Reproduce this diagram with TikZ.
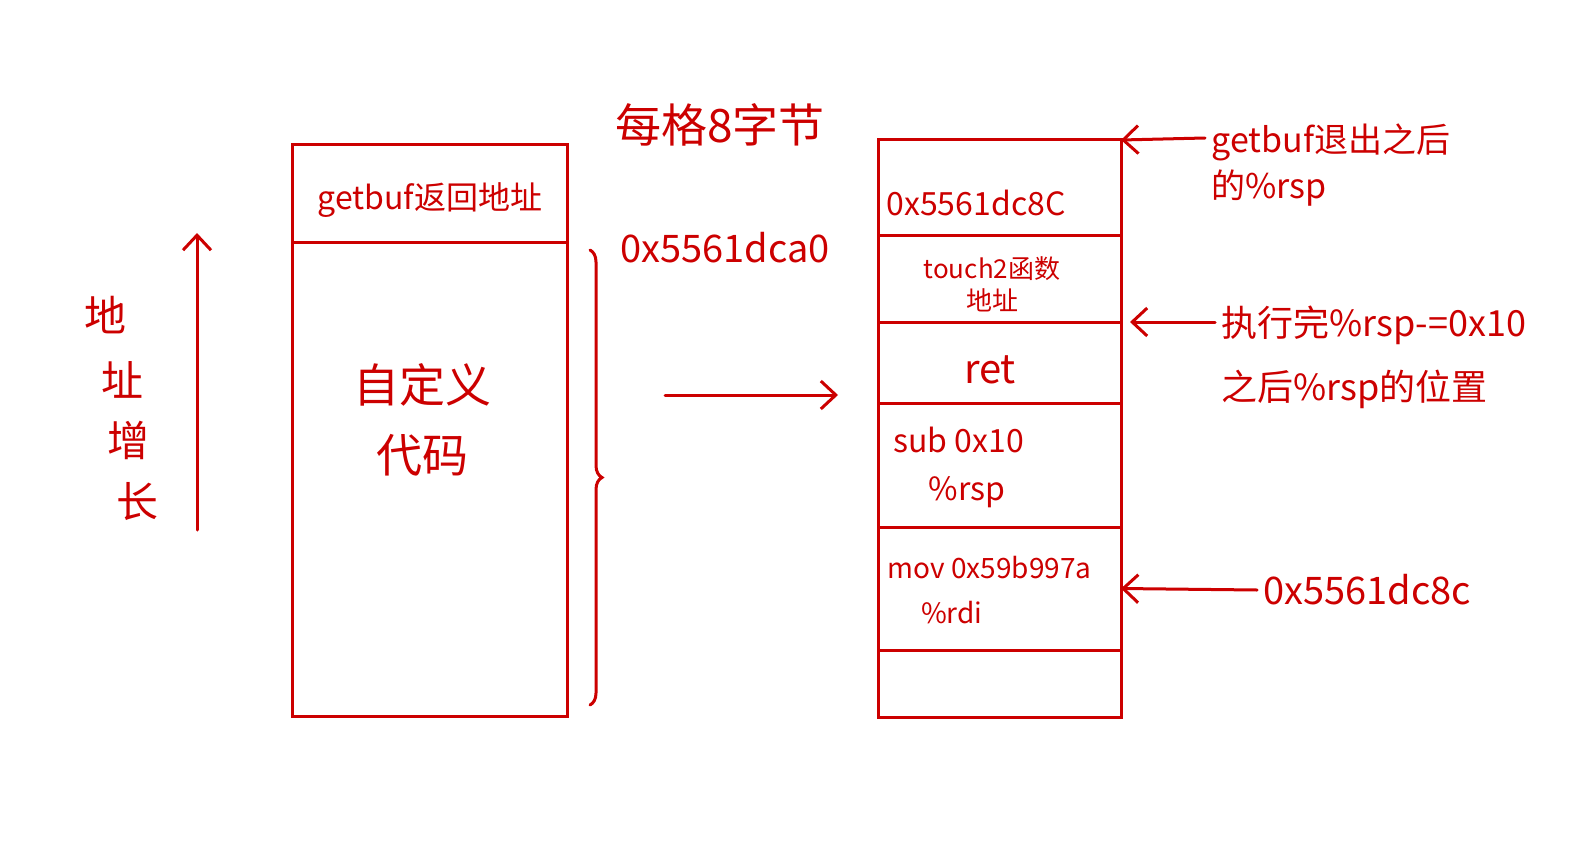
\documentclass[tikz,border=0pt]{standalone}
\usepackage{fontspec}
\setmainfont{Noto Sans CJK SC}
\usetikzlibrary{positioning,arrows.meta,decorations.pathreplacing}
\definecolor{ink}{RGB}{204,0,0}
\newcommand\penfont[2]{\fontsize{#1}{#2}\selectfont}

\begin{document}
\begin{tikzpicture}[x=1pt,y=-1pt,line width=3pt,line cap=round,draw=ink,
    >={Straight Barb[length=15pt,width=28pt]},
    cell/.style={draw=ink,rectangle,outer sep=0pt,inner sep=0pt,minimum width=#1},
    hand/.style={text=ink,inner sep=0pt}]
  \useasboundingbox (0,0) rectangle (1587,848);

  % left stack
  \node[cell=275pt,minimum height=97pt,anchor=north west] (l1) at (292,145) {};
  \node[cell=275pt,minimum height=474pt,below=0pt of l1]  (l2) {};
  \node[hand,font=\penfont{32}{38}] (t0) at (430,200) {getbuf返回地址};
  \node[hand,font=\penfont{46}{70},align=center] (code) at (422,420) {自定义\\代码};

  % right stack
  \node[cell=243pt,minimum height=95pt,anchor=north west] (r1) at (878,140) {};
  \node[cell=243pt,minimum height=87pt,below=0pt of r1]  (r2) {};
  \node[cell=243pt,minimum height=81pt,below=0pt of r2]  (r3) {};
  \node[cell=243pt,minimum height=124pt,below=0pt of r3] (r4) {};
  \node[cell=243pt,minimum height=123pt,below=0pt of r4] (r5) {};
  \node[cell=243pt,minimum height=67pt,below=0pt of r5]  (r6) {};
  \node[hand,font=\penfont{32}{38},anchor=west] (t1) at (885,203) {0x5561dc8C};
  \node[hand,font=\penfont{26}{32},align=center] (t2) at (992,284) {touch2函数\\地址};
  \node[hand,font=\penfont{40}{48}] (t3) at (990,370) {ret};
  \node[hand,font=\penfont{32}{48},align=left,anchor=west] (t4) at (892,467) {sub 0x10\\\hspace{1.1em}\%rsp};
  \node[hand,font=\penfont{28}{45},align=left,anchor=west] (t5) at (886,590) {mov 0x59b997a\\\hspace{1.2em}\%rdi};

  % labels
  \node[hand,font=\penfont{46}{56}] (title) at (720,125) {每格8字节};
  \node[hand,font=\penfont{38}{46}] (addr1) at (725,248) {0x5561dca0};
  \node[hand,font=\penfont{42}{50}] (g1) at (105,315) {地};
  \node[hand,font=\penfont{42}{50}] (g2) at (122,380) {址};
  \node[hand,font=\penfont{42}{50}] (g3) at (128,440) {增};
  \node[hand,font=\penfont{42}{50}] (g4) at (137,502) {长};
  \node[hand,font=\penfont{34}{46},align=left,anchor=north west] (lab1) at (1210,122) {getbuf退出之后\\的\%rsp};
  \node[hand,font=\penfont{36}{64},align=left,anchor=west] (lab2) at (1220,357) {执行完\%rsp-=0x10\\之后\%rsp的位置};
  \node[hand,font=\penfont{38}{46},anchor=west] (addr2) at (1262,590) {0x5561dc8c};

  % arrows
  \coordinate (up0) at (197,530);
  \coordinate (up1) at (197,233);
  \coordinate (m0) at (665,395);
  \coordinate (m1) at (838,395);
  \coordinate (a1) at (1205,138);
  \coordinate (a2) at (1215,322);
  \draw[->] (up0) -- (up1);
  \draw[->] (m0) -- (m1);
  \draw[->] (a1) -- (r1.north east);
  \draw[->] (a2) -- ([xshift=9pt]r3.north east);
  \draw[->] ([xshift=-5pt]addr2.west) -- (r5.east);
  \draw[decorate,decoration={brace,amplitude=12pt}]
    ([xshift=23pt,yshift=-8pt]l2.north east) -- ([xshift=23pt,yshift=11pt]l2.south east);
\end{tikzpicture}
\end{document}
